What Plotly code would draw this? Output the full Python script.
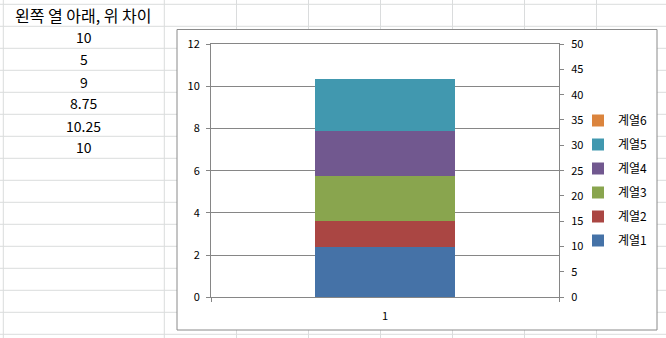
import plotly.graph_objects as go

# ---- data ----
header_text = "왼쪽 열 아래, 위 차이"
table_values = ["10", "5", "9", "8.75", "10.25", "10"]
categories = ["1"]
series_names = ["계열1", "계열2", "계열3", "계열4", "계열5", "계열6"]
series_values = [10, 5, 9, 8.75, 10.25, 10]
series_colors = ["#4572A7", "#AA4643", "#89A54E", "#71588F", "#4198AF", "#DB843D"]
# 계열1-5 on the secondary (right) axis, 계열6 on the primary (left) axis
series_axis = ["y2", "y2", "y2", "y2", "y2", "y"]
left_ticks = [0, 2, 4, 6, 8, 10, 12]
right_ticks = [0, 5, 10, 15, 20, 25, 30, 35, 40, 45, 50]

W, H = 666, 338
FONT = "Noto Sans CJK KR, Noto Sans, sans-serif"
AX = "#868686"


def px(x):
    return x / W


def py(y):
    return 1 - y / H


fig = go.Figure()
n = len(series_names)
for i, (name, val, col, ax) in enumerate(zip(series_names, series_values, series_colors, series_axis)):
    fig.add_trace(go.Bar(
        x=categories, y=[val], name=name, yaxis=ax,
        marker=dict(color=col, line=dict(width=0)),
        width=0.4, legendrank=n - i, legendgroup=name,
    ))

shapes = []
# spreadsheet cell grid
col_lines = [3.3, 164.3, 236.5, 308.5, 380.5, 452.5, 524.5, 596.5]
for cx in col_lines:
    shapes.append(dict(type="line", xref="paper", yref="paper",
                       x0=px(cx), x1=px(cx), y0=0, y1=1,
                       line=dict(color="#DADCDD", width=1), layer="below"))
ry = 4.3
while ry < H:
    shapes.append(dict(type="line", xref="paper", yref="paper",
                       x0=0, x1=1, y0=py(ry), y1=py(ry),
                       line=dict(color="#DADCDD", width=1), layer="below"))
    ry += 22
# chart frame
shapes.append(dict(type="rect", xref="paper", yref="paper",
                   x0=px(177), x1=px(657), y0=py(330), y1=py(29.5),
                   fillcolor="white", line=dict(color="#8A8A8A", width=1),
                   layer="below"))

annotations = [dict(text=header_text, x=px(84), y=py(15), xref="paper", yref="paper",
                    showarrow=False, xanchor="center", yanchor="middle",
                    font=dict(family=FONT, size=16, color="black"))]
for i, v in enumerate(table_values):
    annotations.append(dict(text=v, x=px(84), y=py(37.5 + 22 * i), xref="paper", yref="paper",
                            showarrow=False, xanchor="center", yanchor="middle",
                            font=dict(family=FONT, size=14, color="black")))

fig.update_layout(
    width=W, height=H,
    margin=dict(l=0, r=0, t=0, b=0, pad=0, autoexpand=False),
    paper_bgcolor="white", plot_bgcolor="rgba(0,0,0,0)",
    barmode="stack",
    font=dict(family=FONT, size=11, color="black"),
    shapes=shapes, annotations=annotations,
    xaxis=dict(domain=[px(211), px(559)], type="category", range=[-0.5, 0.5],
               showline=True, linecolor=AX, linewidth=1, mirror=True,
               ticks="outside", tickson="boundaries", ticklen=4, tickcolor=AX,
               showgrid=False, zeroline=False, ticklabelstandoff=8, automargin=False),
    yaxis=dict(domain=[py(297.3), py(44)], range=[0, 12], tickvals=left_ticks,
               showline=True, linecolor=AX, linewidth=1,
               ticks="outside", ticklen=4, tickcolor=AX,
               showgrid=True, gridcolor=AX, gridwidth=1, zeroline=False,
               ticklabelstandoff=4, automargin=False),
    yaxis2=dict(overlaying="y", side="right", anchor="x", range=[0, 50], tickvals=right_ticks,
                showline=True, linecolor=AX, linewidth=1,
                ticks="outside", ticklen=4, tickcolor=AX,
                showgrid=False, zeroline=False, ticklabelstandoff=5, automargin=False),
    legend=dict(x=px(578), y=py(106), xanchor="left", yanchor="top",
                traceorder="grouped", tracegroupgap=5,
                bgcolor="rgba(0,0,0,0)", font=dict(family=FONT, size=12),
                itemwidth=30),
)

fig.write_html("out.html")
